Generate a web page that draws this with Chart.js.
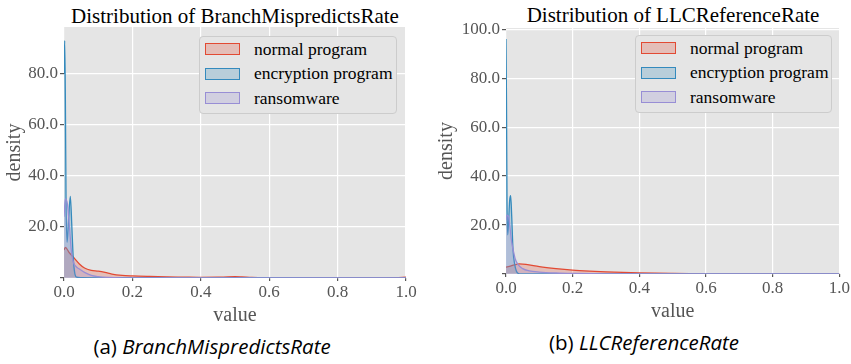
<!DOCTYPE html>
<html>
<head>
<meta charset="utf-8">
<title>Distribution of BranchMispredictsRate / LLCReferenceRate</title>
<script src="https://cdn.jsdelivr.net/npm/chart.js@4.4.0/dist/chart.umd.min.js"></script>
<style>
  body { margin: 0; width: 851px; height: 364px; background: #fff; position: relative; overflow: hidden; font-family: "Liberation Serif", serif; }
  .wrap { position: absolute; }
  .ttl { position: absolute; font-family: "Liberation Serif", serif; font-size: 21px; line-height: 1; color: #000; white-space: nowrap; transform: translateX(-50%); }
  .legend { position: absolute; background: #E5E5E5; border: 1px solid #CCCCCC; border-radius: 4px; box-sizing: border-box; }
  .legend .sw { position: absolute; width: 35px; height: 12px; box-sizing: border-box; border: 1.2px solid; }
  .legend .lb { position: absolute; font-family: "Liberation Serif", serif; font-size: 17.5px; line-height: 1; color: #000; white-space: nowrap; }
  .cap { position: absolute; font-family: "Open Sans", sans-serif; font-size: 20.5px; line-height: 1; color: #000; white-space: nowrap; transform: translateX(-50%); }
  .cap i { font-style: italic; }
</style>
</head>
<body>
<div class="ttl" style="left:235px;top:6px">Distribution of BranchMispredictsRate</div>
<div class="ttl" style="left:673px;top:5px">Distribution of LLCReferenceRate</div>

<div class="wrap" style="left:0;top:0;width:425px;height:328px"><canvas id="chartA"></canvas></div>
<div class="wrap" style="left:430px;top:0;width:421px;height:324px"><canvas id="chartB"></canvas></div>

<div class="legend" id="legA" style="left:199px;top:36px;width:198px;height:78px"></div>
<div class="legend" id="legB" style="left:635px;top:35px;width:197px;height:78px"></div>

<div class="cap" style="left:212px;top:336px">(a) <i>BranchMispredictsRate</i></div>
<div class="cap" style="left:644px;top:332px">(b) <i>LLCReferenceRate</i></div>

<script>
// series names / colours
var seriesNames = ['normal program', 'encryption program', 'ransomware'];
var seriesColors = ['#E24A33', '#348ABD', '#988ED5'];
var seriesFills = ['rgba(226,74,51,0.25)', 'rgba(52,138,189,0.25)', 'rgba(152,142,213,0.25)'];

// (a) BranchMispredictsRate - density estimates
var bmrNormalX = [0, 0.004, 0.015, 0.03, 0.045, 0.06, 0.08, 0.1, 0.12, 0.14, 0.17, 0.2, 0.25, 0.3, 0.35, 0.4, 0.45, 0.48, 0.5, 0.52, 0.55, 0.6, 0.7, 0.8, 0.9, 0.97, 1.0];
var bmrNormalY = [11, 12, 10, 7.8, 5.5, 3.9, 3.0, 2.7, 2.2, 1.5, 1.0, 0.8, 0.6, 0.45, 0.35, 0.25, 0.3, 0.45, 0.5, 0.4, 0.2, 0.1, 0.06, 0.05, 0.05, 0.12, 0.3];
var bmrEncX = [0, 0.002, 0.004, 0.006, 0.009, 0.013, 0.0185, 0.023, 0.027, 0.032, 0.037, 0.05, 0.1, 0.25, 0.3, 0.5, 1.0];
var bmrEncY = [80, 93, 70, 30, 14, 22, 32, 20, 8, 1.5, 0.3, 0.1, 0.05, 0.15, 0.05, 0.1, 0];
var bmrRansX = [0, 0.004, 0.01, 0.016, 0.022, 0.028, 0.035, 0.045, 0.06, 0.08, 0.1, 0.13, 0.18, 0.25, 1.0];
var bmrRansY = [24, 31, 29, 20, 10, 6, 4.5, 3.5, 2.2, 1.0, 0.5, 0.2, 0.05, 0, 0];

// (b) LLCReferenceRate
var llcNormalX = [0, 0.01, 0.025, 0.04, 0.06, 0.1, 0.15, 0.2, 0.25, 0.3, 0.35, 0.4, 0.45, 0.5, 0.55, 0.6, 0.65, 0.7, 1.0];
var llcNormalY = [2.8, 3.1, 3.7, 4.1, 3.9, 3.0, 2.2, 1.6, 1.2, 0.9, 0.65, 0.45, 0.3, 0.2, 0.12, 0.06, 0.02, 0, 0];
var llcEncX = [0, 0.0015, 0.003, 0.005, 0.008, 0.011, 0.014, 0.017, 0.021, 0.026, 0.031, 0.036, 0.045, 1.0];
var llcEncY = [96, 70, 30, 16, 22, 30, 32, 24, 10, 4, 1.2, 0.3, 0, 0];
var llcRansX = [0, 0.003, 0.008, 0.012, 0.017, 0.022, 0.028, 0.035, 0.05, 0.07, 0.1, 0.15, 0.2, 0.3, 1.0];
var llcRansY = [22, 24, 23.5, 19, 13, 9.5, 6, 4, 2.2, 1.3, 0.8, 0.4, 0.2, 0.05, 0];

var serif = '"Liberation Serif", serif';

// grey plot background (ggplot style)
var plotBg = {
    id: 'plotBg',
    beforeDraw: function(chart) {
        var a = chart.chartArea, ctx = chart.ctx;
        ctx.save();
        ctx.fillStyle = '#E5E5E5';
        ctx.fillRect(a.left, a.top, a.right - a.left, a.bottom - a.top);
        ctx.restore();
    }
};

function pts(xs, ys) {
    return xs.map(function(x, i) { return { x: x, y: ys[i] }; });
}

function makeDatasets(xyList) {
    return xyList.map(function(xy, i) {
        return {
            label: seriesNames[i],
            data: pts(xy[0], xy[1]),
            borderColor: seriesColors[i],
            backgroundColor: seriesFills[i],
            borderWidth: 1.3,
            fill: 'origin',
            cubicInterpolationMode: 'monotone',
            pointRadius: 0,
            order: 3 - i
        };
    });
}

function makeChart(id, datasets, yMax, padTop, padRight, yWidth, xHeight, yTitlePad) {
    return new Chart(document.getElementById(id), {
        type: 'line',
        data: { datasets: datasets },
        options: {
            responsive: true,
            maintainAspectRatio: false,
            animation: false,
            devicePixelRatio: 1,
            layout: { padding: { top: padTop, right: padRight, left: 0, bottom: 0 } },
            plugins: { legend: { display: false }, tooltip: { enabled: false } },
            scales: {
                x: {
                    type: 'linear', min: 0, max: 1,
                    border: { display: false },
                    grid: { color: '#FFFFFF', lineWidth: 1.2, tickColor: '#555555', tickLength: 3 },
                    ticks: {
                        stepSize: 0.2, autoSkip: false, maxRotation: 0, padding: 1,
                        color: '#555555', font: { family: serif, size: 17 },
                        callback: function(v) { return v.toFixed(1); }
                    },
                    title: { display: true, text: 'value', color: '#555555', font: { family: serif, size: 20 }, padding: { top: 0, bottom: 0 } },
                    afterFit: function(s) { s.height = xHeight; }
                },
                y: {
                    min: 0, max: yMax,
                    border: { display: false },
                    grid: { color: '#FFFFFF', lineWidth: 1.2, tickColor: '#555555', tickLength: 4 },
                    ticks: {
                        stepSize: 20, includeBounds: false, padding: 2,
                        color: '#555555', font: { family: serif, size: 17 },
                        callback: function(v) { return v === 0 ? '' : v.toFixed(1); }
                    },
                    title: { display: true, text: 'density', color: '#555555', font: { family: serif, size: 20 }, padding: { top: yTitlePad, bottom: 0 } },
                    afterFit: function(s) { s.width = yWidth; }
                }
            }
        },
        plugins: [plotBg]
    });
}

function buildLegend(id) {
    var box = document.getElementById(id);
    var rowTop = [6, 30.5, 55];
    seriesNames.forEach(function(name, i) {
        var sw = document.createElement('div');
        sw.className = 'sw';
        sw.style.left = '5px';
        sw.style.top = rowTop[i] + 'px';
        sw.style.borderColor = seriesColors[i];
        sw.style.background = seriesFills[i];
        box.appendChild(sw);
        var lb = document.createElement('div');
        lb.className = 'lb';
        lb.style.left = '54px';
        lb.style.top = (rowTop[i] - 2.5) + 'px';
        lb.textContent = name;
        box.appendChild(lb);
    });
}

makeChart('chartA', makeDatasets([[bmrNormalX, bmrNormalY], [bmrEncX, bmrEncY], [bmrRansX, bmrRansY]]), 98.4, 27, 19, 64, 50, 3);
makeChart('chartB', makeDatasets([[llcNormalX, llcNormalY], [llcEncX, llcEncY], [llcRansX, llcRansY]]), 100.5, 28, 11, 76, 50, 5);
buildLegend('legA');
buildLegend('legB');
</script>
</body>
</html>
